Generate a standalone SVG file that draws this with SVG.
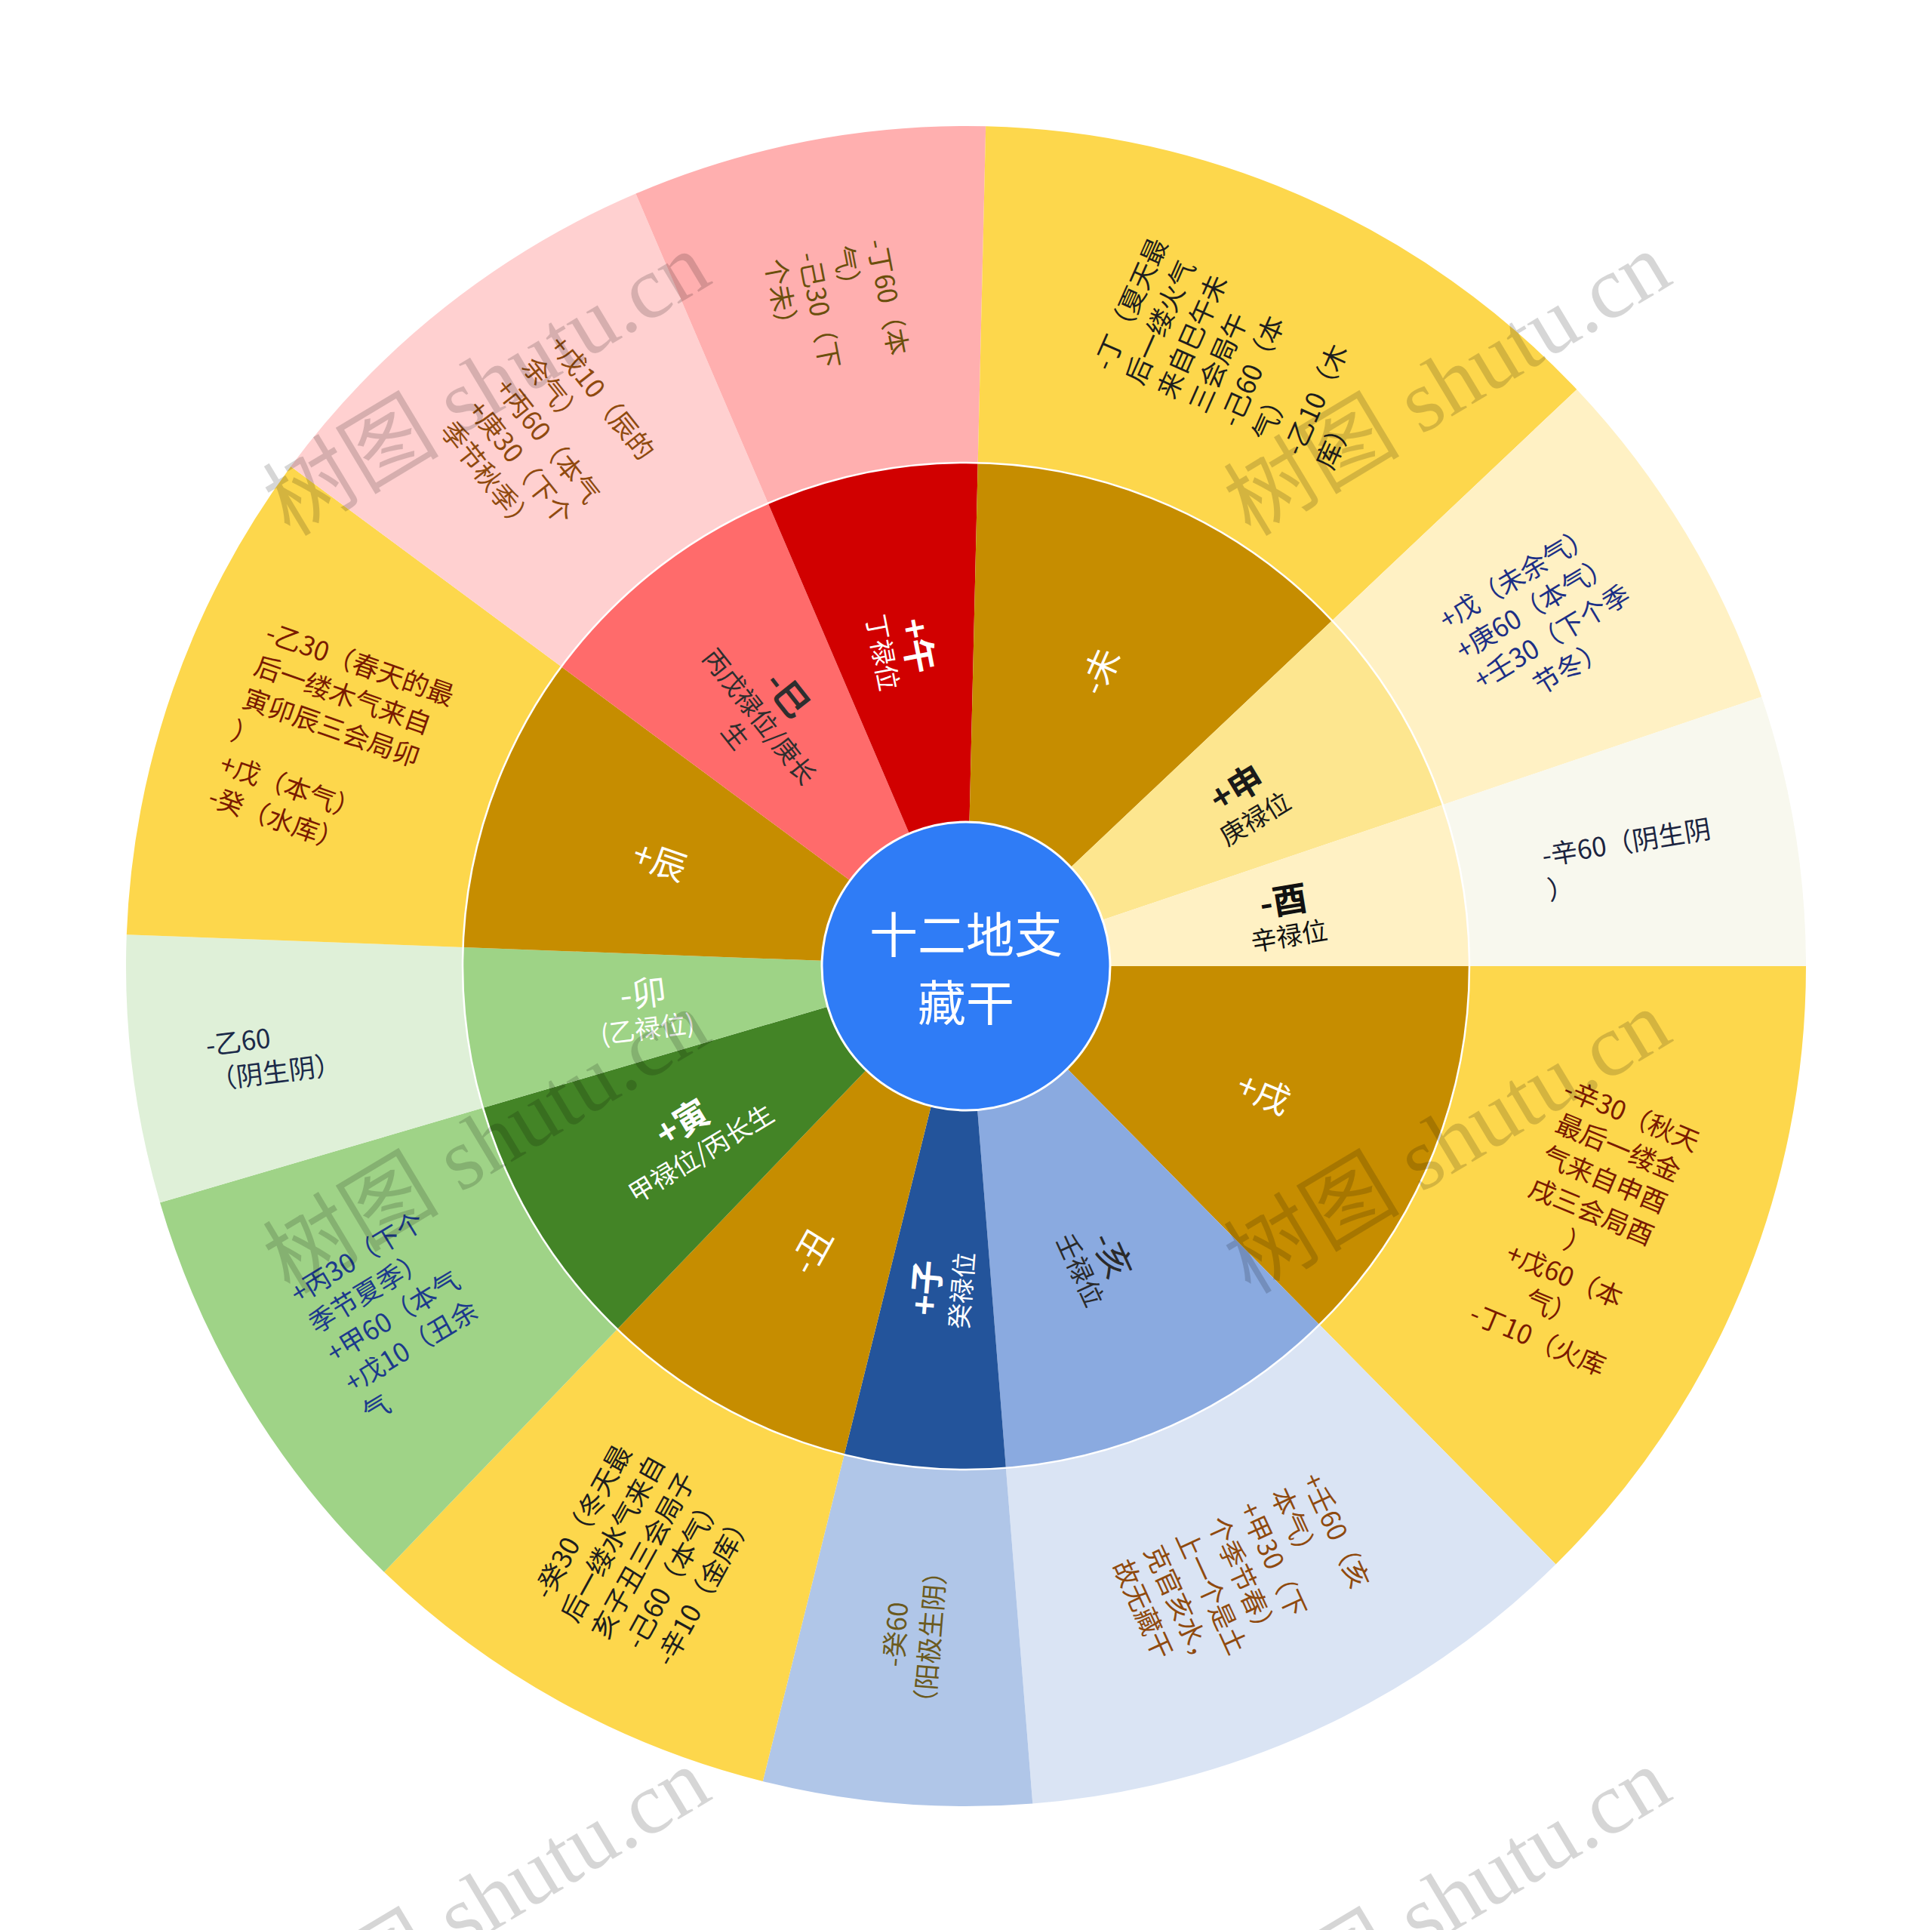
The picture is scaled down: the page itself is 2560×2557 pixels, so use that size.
<svg xmlns="http://www.w3.org/2000/svg" width="2560" height="2557" viewBox="0 0 2560 2557">
<style>
text{font-family:"Noto Sans CJK SC","Noto Sans",sans-serif;dominant-baseline:central}
.o{font-size:35px}
.p{font-size:46px}
.s{font-size:34px}
.b{font-weight:bold}
.c{text-anchor:middle}
.w{fill:#fff}
.wm{font-family:"Liberation Serif","Noto Sans CJK SC",serif;font-size:117px;fill:#000;fill-opacity:0.16;dominant-baseline:auto}
</style>
<rect width="2560" height="2557" fill="#fff"/>

<!-- outer ring -->
<g id="out-xu"><path fill="#fdd74c" d="M1947,1280 L2393,1280 A1113,1113 0 0 1 2061.5,2072.49 L1748.34,1754.92 A667,667 0 0 0 1947,1280Z"/>
<text class="o c" fill="#7a1a00" transform="translate(1280 1280) rotate(22.7) translate(890 0)"><tspan x="0" y="-161">-辛30（秋天</tspan><tspan x="0" y="-115">最后一缕金</tspan><tspan x="0" y="-69">气来自申酉</tspan><tspan x="0" y="-23">戌三会局酉</tspan><tspan x="0" y="23">）</tspan><tspan x="0" y="69">+戊60（本</tspan><tspan x="0" y="115">气）</tspan><tspan x="0" y="161">-丁10（火库</tspan></text></g>

<g id="out-hai"><path fill="#dae4f4" d="M1748.34,1754.92 L2061.5,2072.49 A1113,1113 0 0 1 1368.29,2389.49 L1332.91,1944.9 A667,667 0 0 0 1748.34,1754.92Z"/>
<text class="o" fill="#8f4a0e" transform="translate(1280 1280) rotate(65.425) translate(890 0)"><tspan x="-87.5" y="-138">+壬60（亥</tspan><tspan x="-87.5" y="-92">本气）</tspan><tspan x="-87.5" y="-46">+甲30（下</tspan><tspan x="-87.5" y="0">个季节春）</tspan><tspan x="-87.5" y="46">上一个是土</tspan><tspan x="-87.5" y="92">克官亥水，</tspan><tspan x="-87.5" y="138">故无藏干</tspan></text></g>

<g id="out-zi"><path fill="#b0c6e8" d="M1332.91,1944.9 L1368.29,2389.49 A1113,1113 0 0 1 1010.74,2359.94 L1118.64,1927.19 A667,667 0 0 0 1332.91,1944.9Z"/>
<text class="o c" fill="#6b5a1e" transform="translate(1280 1280) rotate(94.725) translate(890 0) rotate(180)"><tspan x="0" y="-23">-癸60</tspan><tspan x="0" y="23">（阳极生阴）</tspan></text></g>

<g id="out-chou"><path fill="#fdd74c" d="M1118.64,1927.19 L1010.74,2359.94 A1113,1113 0 0 1 508.94,2082.65 L817.92,1761.01 A667,667 0 0 0 1118.64,1927.19Z"/>
<text class="o c" fill="#1e1e1e" transform="translate(1280 1280) rotate(118.925) translate(890 0) rotate(180)"><tspan x="0" y="-92">-癸30（冬天最</tspan><tspan x="0" y="-46">后一缕水气来自</tspan><tspan x="0" y="0">亥子丑三会局子</tspan><tspan x="0" y="46">-己60（本气）</tspan><tspan x="0" y="92">-辛10（金库）</tspan></text></g>

<g id="out-yin"><path fill="#9fd387" d="M817.92,1761.01 L508.94,2082.65 A1113,1113 0 0 1 212.01,1593.31 L639.97,1467.76 A667,667 0 0 0 817.92,1761.01Z"/>
<text class="o" fill="#1c3a8c" transform="translate(1280 1280) rotate(148.75) translate(890 0) rotate(180)"><tspan x="-99" y="-92">+丙30（下个</tspan><tspan x="-99" y="-46">季节夏季）</tspan><tspan x="-99" y="0">+甲60（本气</tspan><tspan x="-99" y="46">+戊10（丑余</tspan><tspan x="-99" y="92">气</tspan></text></g>

<g id="out-mao"><path fill="#dff0d8" d="M639.97,1467.76 L212.01,1593.31 A1113,1113 0 0 1 167.78,1238.24 L613.47,1254.98 A667,667 0 0 0 639.97,1467.76Z"/>
<text class="o" fill="#1b2a49" transform="translate(1280 1280) rotate(172.9) translate(925 0) rotate(180)"><tspan x="-87.5" y="-23">-乙60</tspan><tspan x="-87.5" y="23">（阴生阴）</tspan></text></g>

<g id="out-chen"><path fill="#fdd74c" d="M613.47,1254.98 L167.78,1238.24 A1113,1113 0 0 1 385.31,617.96 L743.83,883.25 A667,667 0 0 0 613.47,1254.98Z"/>
<text class="o" fill="#7a1a00" transform="translate(1280 1280) rotate(199.325) translate(890 0) rotate(180)"><tspan x="-130.5" y="-115">-乙30（春天的最</tspan><tspan x="-130.5" y="-69">后一缕木气来自</tspan><tspan x="-130.5" y="-23">寅卯辰三会局卯</tspan><tspan x="-130.5" y="23">）</tspan><tspan x="-130.5" y="69">+戊（本气）</tspan><tspan x="-130.5" y="115">-癸（水库）</tspan></text></g>

<g id="out-si"><path fill="#ffd0d0" d="M743.83,883.25 L385.31,617.96 A1113,1113 0 0 1 842.44,256.62 L1017.78,666.71 A667,667 0 0 0 743.83,883.25Z"/>
<text class="o" fill="#8f4a0e" transform="translate(1280 1280) rotate(231.675) translate(890 0) rotate(180)"><tspan x="-99" y="-92">+戊10（辰的</tspan><tspan x="-99" y="-46">余气）</tspan><tspan x="-99" y="0">+丙60（本气</tspan><tspan x="-99" y="46">+庚30（下个</tspan><tspan x="-99" y="92">季节秋季）</tspan></text></g>

<g id="out-wu"><path fill="#ffafaf" d="M1017.78,666.71 L842.44,256.62 A1113,1113 0 0 1 1306.22,167.31 L1295.71,613.19 A667,667 0 0 0 1017.78,666.71Z"/>
<text class="o" fill="#6b4f0c" transform="translate(1280 1280) rotate(259.1) translate(890 0) rotate(180)"><tspan x="-78" y="-69">-丁60（本</tspan><tspan x="-78" y="-23">气）</tspan><tspan x="-78" y="23">-己30（下</tspan><tspan x="-78" y="69">个未）</tspan></text></g>

<g id="out-wei"><path fill="#fdd74c" d="M1295.71,613.19 L1306.22,167.31 A1113,1113 0 0 1 2089.35,515.98 L1765.03,822.14 A667,667 0 0 0 1295.71,613.19Z"/>
<text class="o" fill="#1e1e1e" transform="translate(1280 1280) rotate(294) translate(890 0)"><tspan x="-93.5" y="-161">-丁（夏天最</tspan><tspan x="-93.5" y="-115">后一缕火气</tspan><tspan x="-93.5" y="-69">来自巳午未</tspan><tspan x="-93.5" y="-23">三会局午</tspan><tspan x="-93.5" y="23">-己60（本</tspan><tspan x="-93.5" y="69">气）</tspan><tspan x="-93.5" y="115">-乙10（木</tspan><tspan x="-93.5" y="161">库）</tspan></text></g>

<g id="out-shen"><path fill="#fff1c4" d="M1765.03,822.14 L2089.35,515.98 A1113,1113 0 0 1 2334.24,923.16 L1911.79,1066.15 A667,667 0 0 0 1765.03,822.14Z"/>
<text class="o c" fill="#1c2f86" transform="translate(1280 1280) rotate(328.975) translate(890 0)"><tspan x="0" y="-69">+戊（未余气）</tspan><tspan x="0" y="-23">+庚60（本气）</tspan><tspan x="0" y="23">+壬30（下个季</tspan><tspan x="0" y="69">节冬）</tspan></text></g>

<g id="out-you"><path fill="#f8f8ee" d="M1911.79,1066.15 L2334.24,923.16 A1113,1113 0 0 1 2393,1280 L1947,1280 A667,667 0 0 0 1911.79,1066.15Z"/>
<text class="o" fill="#1b2440" transform="translate(1280 1280) rotate(350.65) translate(890 0)"><tspan x="-113" y="-23">-辛60（阴生阴</tspan><tspan x="-113" y="23">）</tspan></text></g>

<!-- middle ring -->
<g id="mid-xu"><path fill="#c68d00" d="M1471,1280 L1947,1280 A667,667 0 0 1 1748.34,1754.92 L1414.11,1416 A191,191 0 0 0 1471,1280Z"/>
<text class="p c w" transform="translate(1280 1280) rotate(22.7) translate(429 0)" y="0">+戌</text></g>

<g id="mid-hai"><path fill="#8aaae0" d="M1414.11,1416 L1748.34,1754.92 A667,667 0 0 1 1332.91,1944.9 L1295.15,1470.4 A191,191 0 0 0 1414.11,1416Z"/>
<text class="c" fill="#2a2a2a" transform="translate(1280 1280) rotate(65.425) translate(429 0)"><tspan class="p" x="0" y="-20.5">-亥</tspan><tspan class="s" x="0" y="27.5">壬禄位</tspan></text></g>

<g id="mid-zi"><path fill="#23549b" d="M1295.15,1470.4 L1332.91,1944.9 A667,667 0 0 1 1118.64,1927.19 L1233.79,1465.33 A191,191 0 0 0 1295.15,1470.4Z"/>
<text class="c w" transform="translate(1280 1280) rotate(94.725) translate(429 0) rotate(180)"><tspan class="p b" x="0" y="-20.5">+子</tspan><tspan class="s" x="0" y="27.5">癸禄位</tspan></text></g>

<g id="mid-chou"><path fill="#c68d00" d="M1233.79,1465.33 L1118.64,1927.19 A667,667 0 0 1 817.92,1761.01 L1147.68,1417.74 A191,191 0 0 0 1233.79,1465.33Z"/>
<text class="p c w" transform="translate(1280 1280) rotate(118.925) translate(429 0) rotate(180)" y="0">-丑</text></g>

<g id="mid-yin"><path fill="#438426" d="M1147.68,1417.74 L817.92,1761.01 A667,667 0 0 1 639.97,1467.76 L1096.72,1333.77 A191,191 0 0 0 1147.68,1417.74Z"/>
<text class="c w" transform="translate(1280 1280) rotate(148.75) translate(429 0) rotate(180)"><tspan class="p b" x="0" y="-20.5">+寅</tspan><tspan class="s" x="0" y="27.5">甲禄位/丙长生</tspan></text></g>

<g id="mid-mao"><path fill="#9ed386" d="M1096.72,1333.77 L639.97,1467.76 A667,667 0 0 1 613.47,1254.98 L1089.13,1272.83 A191,191 0 0 0 1096.72,1333.77Z"/>
<text class="c w" transform="translate(1280 1280) rotate(172.9) translate(429 0) rotate(180)"><tspan class="p" x="0" y="-20.5">-卯</tspan><tspan class="s" x="0" y="27.5">(乙禄位)</tspan></text></g>

<g id="mid-chen"><path fill="#c68d00" d="M1089.13,1272.83 L613.47,1254.98 A667,667 0 0 1 743.83,883.25 L1126.46,1166.39 A191,191 0 0 0 1089.13,1272.83Z"/>
<text class="p c w" transform="translate(1280 1280) rotate(199.325) translate(429 0) rotate(180)" y="0">+辰</text></g>

<g id="mid-si"><path fill="#ff6b6b" d="M1126.46,1166.39 L743.83,883.25 A667,667 0 0 1 1017.78,666.71 L1204.91,1104.38 A191,191 0 0 0 1126.46,1166.39Z"/>
<text class="c" fill="#2e2e2e" transform="translate(1280 1280) rotate(231.675) translate(429 0) rotate(180)"><tspan class="p b" x="0" y="-41">-巳</tspan><tspan class="s" x="0" y="7">丙戊禄位/庚长</tspan><tspan class="s" x="0" y="48">生</tspan></text></g>

<g id="mid-wu"><path fill="#d10000" d="M1204.91,1104.38 L1017.78,666.71 A667,667 0 0 1 1295.71,613.19 L1284.5,1089.05 A191,191 0 0 0 1204.91,1104.38Z"/>
<text class="c w" transform="translate(1280 1280) rotate(259.1) translate(429 0) rotate(180)"><tspan class="p b" x="0" y="-20.5">+午</tspan><tspan class="s" x="0" y="27.5">丁禄位</tspan></text></g>

<g id="mid-wei"><path fill="#c68d00" d="M1284.5,1089.05 L1295.71,613.19 A667,667 0 0 1 1765.03,822.14 L1418.89,1148.89 A191,191 0 0 0 1284.5,1089.05Z"/>
<text class="p c w" transform="translate(1280 1280) rotate(294) translate(429 0)" y="0">-未</text></g>

<g id="mid-shen"><path fill="#fde68f" d="M1418.89,1148.89 L1765.03,822.14 A667,667 0 0 1 1911.79,1066.15 L1460.92,1218.76 A191,191 0 0 0 1418.89,1148.89Z"/>
<text class="c" fill="#1a1a1a" transform="translate(1280 1280) rotate(328.975) translate(429 0)"><tspan class="p b" x="0" y="-20.5">+申</tspan><tspan class="s" x="0" y="27.5">庚禄位</tspan></text></g>

<g id="mid-you"><path fill="#fff1c4" d="M1460.92,1218.76 L1911.79,1066.15 A667,667 0 0 1 1947,1280 L1471,1280 A191,191 0 0 0 1460.92,1218.76Z"/>
<text class="c" fill="#111" transform="translate(1280 1280) rotate(350.65) translate(429 0)"><tspan class="p b" x="0" y="-20.5">-酉</tspan><tspan class="s" x="0" y="27.5">辛禄位</tspan></text></g>

<g id="connectors">
<circle cx="1280" cy="1280" r="667" fill="none" stroke="#fff" stroke-width="2.5"/>
</g>

<g id="root">
<circle cx="1280" cy="1280" r="191" fill="#2f7cf6" stroke="#fff" stroke-width="3"/>
<text class="c w" font-size="64" x="1280" y="1234">十二地支</text>
<text class="c w" font-size="64" x="1280" y="1324">藏干</text>
</g>

<g id="watermarks">
<text class="wm" transform="translate(384 712) rotate(-31)">树图 shutu.cn</text>
<text class="wm" transform="translate(1657 712) rotate(-31)">树图 shutu.cn</text>
<text class="wm" transform="translate(384 1716) rotate(-31)">树图 shutu.cn</text>
<text class="wm" transform="translate(1657 1716) rotate(-31)">树图 shutu.cn</text>
<text class="wm" transform="translate(384 2720) rotate(-31)">树图 shutu.cn</text>
<text class="wm" transform="translate(1657 2720) rotate(-31)">树图 shutu.cn</text>
</g>
</svg>
